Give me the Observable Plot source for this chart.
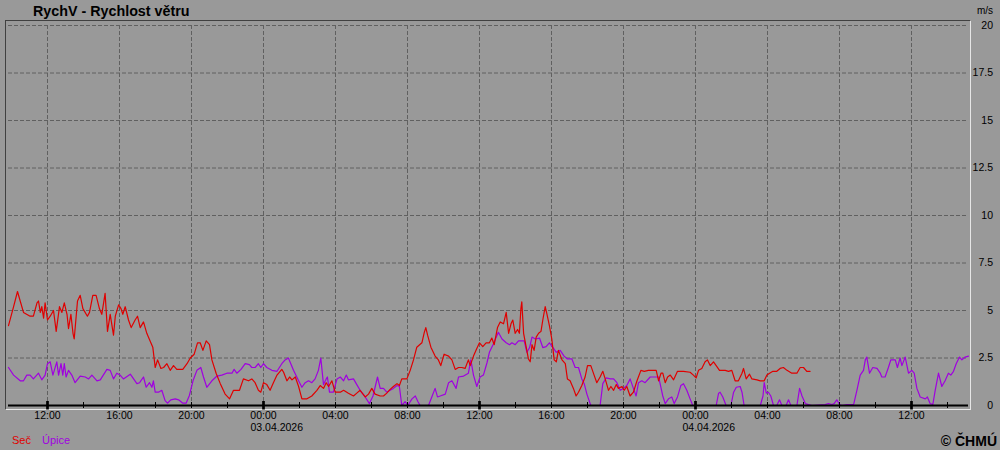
<!DOCTYPE html>
<html>
<head>
<meta charset="utf-8">
<script src="https://cdn.jsdelivr.net/npm/d3@7"></script>
<script src="https://cdn.jsdelivr.net/npm/@observablehq/plot@0.6"></script>
<style>
  html, body { margin: 0; padding: 0; background: #999999; }
  #wrap { position: relative; width: 1000px; height: 450px; overflow: hidden; background: #999999;
          font-family: "Liberation Sans", Arial, sans-serif; color: #000; }
  #frame { position: absolute; left: 5px; top: 20px; width: 964px; height: 388px;
           border-left: 1px solid #404040; border-top: 1px solid #404040;
           border-right: 1px solid #e6e6e6; border-bottom: 1px solid #e6e6e6; }
  #chart { position: absolute; left: 0; top: 0; }
  .lbl { position: absolute; white-space: nowrap; line-height: 1; }
  #title { left: 33px; top: 4px; font-size: 14.3px; font-weight: bold; }
  #unit { right: 7px; top: 6px; font-size: 10px; }
  #leg1 { left: 12px; top: 435px; font-size: 11px; color: #e00000; }
  #leg2 { left: 42px; top: 435px; font-size: 11px; color: #a000e0; }
  #copy { right: 3px; top: 434px; font-size: 14px; font-weight: bold; }
</style>
</head>
<body>
<div id="wrap">
  <div id="frame"></div>
  <div id="chart"></div>
  <div class="lbl" id="title">RychV - Rychlost větru</div>
  <div class="lbl" id="unit">m/s</div>
  <div class="lbl" id="leg1">Seč</div>
  <div class="lbl" id="leg2">Úpice</div>
  <div class="lbl" id="copy">© ČHMÚ</div>
</div>
<script>
// ---- data: minutes since 2026-04-02 00:00 (station clock) and wind speed in m/s ----
const seriesNames = ["Seč", "Úpice"];
const seriesColors = ["#e00000", "#a000e0"];

const secMinutes = [590,607,620,629,640,662,673,685,690,696,701,707,712,720,729,740,749,760,768,776,
785,790,798,805,809,820,829,838,853,860,871,882,893,901,912,920,929,940,946,957,
965,971,979,990,999,1012,1020,1029,1040,1051,1062,1071,1079,1087,1098,1107,1118,1129,1140,1151,
1171,1185,1196,1209,1220,1229,1238,1249,1260,1268,1282,1296,1312,1327,1340,1360,1373,1390,1401,1412,
1423,1431,1440,1451,1462,1473,1485,1501,1507,1518,1527,1535,1546,1557,1568,1585,1601,1618,1629,1640,
1649,1657,1668,1679,1696,1707,1723,1740,1751,1762,1779,1790,1801,1812,1829,1840,1851,1862,1873,1885,
1893,1901,1918,1929,1940,1951,1968,1976,1981,1987,1998,2012,2023,2031,2042,2057,2068,2079,2090,2101,
2112,2123,2129,2140,2151,2160,2171,2182,2193,2201,2209,2220,2229,2240,2249,2257,2265,2271,2279,2287,
2293,2298,2301,2307,2316,2323,2329,2335,2342,2349,2357,2365,2371,2379,2385,2393,2401,2409,2416,2423,
2435,2446,2453,2462,2473,2482,2490,2501,2512,2520,2531,2542,2551,2562,2571,2579,2590,2598,2607,2616,
2623,2635,2642,2651,2662,2673,2685,2698,2709,2723,2735,2749,2757,2765,2771,2779,2787,2796,2807,2820,
2840,2862,2873,2882,2890,2901,2912,2920,2929,2940,2949,2960,2979,2990,3001,3012,3023,3035,3040,3049,
3060,3068,3085,3096,3109,3118,3127,3138,3151,3162,3173,3185,3201,3218,3229,3240,3251,3262];
const secSpeed = [4.2,5.2,6.0,5.5,4.9,4.7,4.7,5.4,5.5,4.9,5.2,4.6,5.4,4.5,4.7,5.0,3.9,5.2,4.9,5.4,
4.8,4.05,4.8,3.8,3.5,5.5,5.8,5.1,4.7,4.9,5.8,5.8,5.1,4.8,5.9,3.9,4.8,3.7,4.7,5.3,
5.1,4.8,5.2,4.5,4.1,4.5,4.7,4.1,4.4,3.8,3.4,3.07,2.0,2.4,1.95,2.0,2.2,1.85,2.1,1.9,
1.9,2.2,2.5,2.7,3.3,3.3,2.9,3.4,3.2,2.4,1.7,1.15,0.6,0.35,0.8,0.8,1.4,1.3,1.4,1.2,
0.8,0.7,1.2,1.1,0.8,1.2,1.6,1.9,1.75,1.3,1.5,1.35,1.5,1.0,0.35,0.35,0.5,0.8,1.05,0.9,
1.2,1.0,1.3,0.7,0.7,0.8,0.65,0.5,0.65,0.8,0.45,0.6,0.9,0.6,0.5,0.5,0.65,0.85,1.0,1.15,
1.05,1.4,1.4,1.85,2.4,3.07,3.3,3.85,4.1,3.7,3.07,2.6,2.4,2.1,2.7,2.6,2.4,1.9,2.0,2.0,
1.95,2.4,2.1,2.6,3.0,3.3,3.1,3.3,3.3,3.55,3.2,4.1,4.4,4.3,4.9,3.8,4.3,4.5,3.8,4.0,
3.8,5.1,5.45,3.8,3.05,2.45,2.3,3.2,2.9,3.6,3.8,3.9,4.5,5.2,4.8,4.2,3.5,2.4,2.3,2.9,
2.4,2.2,1.4,1.3,0.9,0.5,0.7,1.05,1.5,2.1,2.1,1.6,1.2,1.5,1.8,1.4,0.8,1.0,0.8,1.1,
0.9,1.0,0.8,1.0,0.5,0.7,1.3,1.85,1.8,1.85,1.85,1.85,1.3,1.7,1.7,1.2,1.5,1.6,1.35,1.8,
1.8,1.75,1.6,1.45,1.85,1.95,2.3,2.4,2.1,2.3,2.1,1.85,1.85,1.8,1.85,1.3,1.3,1.7,1.95,1.4,
1.65,1.4,1.35,1.3,1.3,1.6,1.7,1.8,1.8,1.95,2.0,1.85,1.7,1.7,2.0,2.0,1.8,1.8];

const upiceMinutes = [590,607,629,640,651,662,673,690,701,712,720,729,738,751,757,765,771,776,782,790,
801,812,829,846,857,868,885,896,918,929,940,951,962,973,996,1007,1018,1027,1040,1049,
1060,1068,1073,1079,1090,1101,1112,1120,1131,1146,1157,1171,1182,1193,1205,1218,1231,1240,1251,1268,
1285,1301,1318,1335,1342,1351,1365,1379,1393,1401,1412,1423,1431,1440,1451,1468,1485,1501,1512,1523,
1540,1557,1568,1579,1590,1601,1612,1623,1631,1640,1649,1653,1660,1673,1685,1696,1707,1716,1723,1740,
1751,1762,1779,1793,1805,1812,1820,1829,1840,1851,1862,1873,1885,1893,1901,1912,1921,1935,1946,1955,
1962,1990,2001,2012,2020,2029,2046,2057,2068,2082,2090,2107,2123,2131,2140,2151,2162,2173,2185,2193,
2205,2216,2223,2235,2249,2260,2268,2279,2290,2309,2318,2327,2335,2346,2360,2371,2382,2393,2405,2416,
2429,2442,2453,2468,2479,2490,2501,2509,2518,2531,2562,2571,2582,2596,2607,2618,2629,2640,2651,2662,
2673,2682,2690,2701,2712,2729,2757,2762,2771,2779,2790,2801,2809,2820,2831,2840,2851,2862,2871,2949,
2957,2962,2971,2982,2998,3007,3016,3029,3035,3042,3096,3105,3109,3116,3123,3131,3140,3151,3160,3168,
3182,3190,3198,3218,3227,3235,3246,3257,3268,3312,3323,3335,3342,3351,3360,3368,3385,3407,3418,3429,
3440,3446,3451,3460,3471,3485,3496,3501,3512,3523,3531,3546,3553,3562,3568,3579,3590,3601,3609,3618,
3629,3646,3653,3662,3671,3679,3690,3701,3712,3723,3731,3740,3749,3760,3768,3779,3790];
const upiceSpeed = [2.0,1.6,1.3,1.3,1.6,1.6,1.4,1.7,1.35,1.6,2.2,2.3,1.6,2.3,1.6,2.2,1.6,2.2,1.5,1.85,
1.6,1.2,1.55,1.5,1.4,1.6,1.3,1.35,1.9,1.85,1.4,1.7,1.6,1.4,1.65,1.4,1.15,1.2,1.5,0.96,
1.2,0.96,1.3,0.7,0.7,0.8,0.26,0.12,0.3,0.35,0.3,0.12,0.12,0.53,1.3,1.85,2.0,1.5,0.96,1.3,
1.55,1.6,1.7,1.7,1.9,1.7,1.9,2.2,2.15,2.0,2.0,2.2,2.0,2.2,2.0,1.85,1.8,2.2,2.4,2.5,
1.85,1.3,0.96,1.2,1.3,1.2,1.4,1.85,2.5,1.1,1.4,1.5,0.7,0.7,1.4,1.5,1.3,1.6,1.35,1.4,
1.1,0.8,0.45,0.1,0.5,0.96,1.5,0.9,0.9,0.7,0.8,0.9,1.05,1.0,0,0.2,0,0.35,0.5,0.2,
0,0,0.45,0.9,0.45,0.5,0.6,1.2,1.3,0.9,1.5,1.55,1.7,2.4,1.6,1.0,1.5,1.6,2.25,2.8,
3.2,3.6,3.85,3.5,3.3,3.2,3.3,3.2,3.4,3.4,2.8,3.05,3.6,3.5,3.55,3.05,3.1,3.3,3.05,2.8,
2.9,2.6,2.45,2.45,2.0,2.0,1.4,1.15,0.6,0,0,1.15,1.45,1.4,1.4,1.2,0.8,0.9,1.05,1.4,
0.9,0.5,1.2,1.3,1.2,1.5,1.5,1.15,0.5,0.1,0.35,0.45,0.1,0.45,1.05,1.15,0.8,0.35,0,0,
0.65,0.7,0.45,0,0,0.7,0.96,1.0,0.7,0,0,0.5,1.2,0.65,0.7,0.5,0,0,0.3,0,
0,0.3,0,0,0.9,0.5,0.1,0.05,0,0.05,0.1,0.05,0.1,0.3,0.05,0,0.05,0.05,0.8,1.6,
1.85,2.4,2.55,1.7,2.0,1.95,1.7,1.5,1.5,2.0,2.4,2.4,2.0,2.5,2.1,2.55,1.7,1.85,1.7,0.9,
0.45,0.35,0.45,0.1,0.05,0.8,1.7,1.0,1.3,1.7,1.6,1.8,2.2,2.55,2.4,2.55,2.6];

// axis description
const startMinute = 590, endMinute = 3790;
const yTickValues = [0, 2.5, 5, 7.5, 10, 12.5, 15, 17.5, 20];
const yTickLabels = ["0", "2.5", "5", "7.5", "10", "12.5", "15", "17.5", "20"];

// ---- build ----
const base = Date.UTC(2026, 3, 2);
const toDate = m => new Date(base + m * 60000);
const sec = secMinutes.map((m, i) => ({t: toDate(m), v: secSpeed[i]}));
const upice = upiceMinutes.map((m, i) => ({t: toDate(m), v: upiceSpeed[i]}));

const t0 = toDate(startMinute), t1 = toDate(endMinute);
const firstNoon = toDate(720);
const ticks2h = d3.utcHour.every(2).range(firstNoon, t1);
const ticks4h = d3.utcHour.every(4).range(firstNoon, t1);
const ticks12h = d3.utcHour.every(12).range(firstNoon, t1);
const midnights = d3.utcDay.range(t0, t1);

const chart = Plot.plot({
  width: 1000,
  height: 450,
  marginLeft: 8,
  marginRight: 32,
  marginTop: 25,
  marginBottom: 45,
  style: {background: "transparent", color: "#000", fontFamily: "'Liberation Sans', Arial, sans-serif", overflow: "visible"},
  x: {type: "utc", domain: [t0, t1], axis: null},
  y: {domain: [0, 20], axis: null},
  marks: [
    Plot.ruleY(yTickValues.filter(v => v > 0), {stroke: "#606060", strokeWidth: 1, strokeDasharray: "4,2"}),
    Plot.ruleX(ticks4h, {stroke: "#606060", strokeWidth: 1, strokeDasharray: "4,2"}),
    Plot.line(upice, {x: "t", y: "v", stroke: seriesColors[1], strokeWidth: 1.2}),
    Plot.line(sec, {x: "t", y: "v", stroke: seriesColors[0], strokeWidth: 1.2}),
    Plot.ruleY([0], {stroke: "#000", strokeWidth: 1.8}),
    Plot.tickX(ticks2h, {stroke: "#000", strokeWidth: 1, insetTop: 377, insetBottom: -3}),
    Plot.tickX(ticks12h, {stroke: "#000", strokeWidth: 2.7, insetTop: 376, insetBottom: -4.5}),
    Plot.text(ticks4h, {x: d => d, frameAnchor: "bottom", dy: 13, text: d3.utcFormat("%H:%M"), fontSize: 10.5, fill: "#000"}),
    Plot.text(midnights, {x: d => d, frameAnchor: "bottom", dy: 25, dx: -13, textAnchor: "start", text: d3.utcFormat("%d.%m.%Y"), fontSize: 10.5, fill: "#000"}),
    Plot.text(yTickValues, {y: d => d, frameAnchor: "right", dx: 24.5, textAnchor: "end", text: (d, i) => yTickLabels[i], fontSize: 10.5, fill: "#000"})
  ]
});
document.getElementById("chart").appendChild(chart);
</script>
</body>
</html>
